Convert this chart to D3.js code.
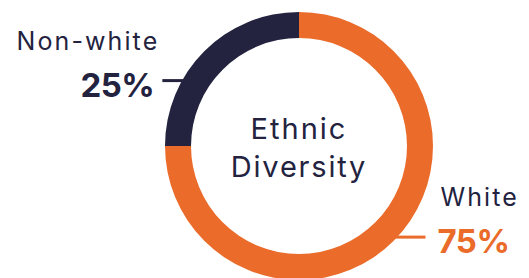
<html lang="en">
<head>
<script src="https://cdn.jsdelivr.net/npm/d3@7"></script>
</head>
<style>
body{margin:0;background:#fff;}
text{font-family:Inter,"Open Sans",sans-serif;}
</style>
<body>
<div id="chart"></div>
<script>
const categories=["White","Non-white"]
const values=[75,25]
const labels=["75%","25%"]

const W=529,H=278
const cx=299,cy=146,outerR=134,innerR=108
const colors={"White":"#EA6B2A","Non-white":"#23233F"}
const ink="#23233F"

const svg=d3.select("#chart").append("svg").attr("width",W).attr("height",H)
const g=svg.append("g").attr("transform","translate("+cx+","+cy+")")

const data=categories.map((c,i)=>({name:c,value:values[i],label:labels[i]}))
const pie=d3.pie().sort(null).value(d=>d.value)
const arc=d3.arc().innerRadius(innerR).outerRadius(outerR)
const arcs=pie(data)

g.selectAll("path").data(arcs).join("path")
  .attr("d",arc).attr("fill",d=>colors[d.data.name])

// centre title
g.append("text").attr("text-anchor","middle").attr("y",-7)
  .style("font-size","29px").style("letter-spacing","2px").style("fill",ink).text("Ethnic")
g.append("text").attr("text-anchor","middle").attr("y",31)
  .style("font-size","29px").style("letter-spacing","1.8px").style("fill",ink).text("Diversity")

// leader lines + labels
// white on right (line goes out to the right), non-white on left
const labelAngle=d=>d.data.name=="White"?d.startAngle+(d.endAngle-d.startAngle)*0.495:d.startAngle+(d.endAngle-d.startAngle)*0.33
arcs.forEach(d=>{
  const a=labelAngle(d)
  const p=d3.pointRadial(a,outerR-2)
  const right=p[0]>0
  const len=right?31:22
  const x2=right?p[0]+len:p[0]-len
  g.append("line").attr("x1",p[0]).attr("y1",p[1]).attr("x2",x2).attr("y2",p[1])
    .attr("stroke",colors[d.data.name]).attr("stroke-width",3)
  const tx=right?x2+12:x2-8
  g.append("text").attr("x",right?tx+3:tx+5).attr("y",p[1]-31)
    .attr("text-anchor",right?"start":"end")
    .style("font-size","25px").style("letter-spacing","2.1px").style("fill",ink).text(d.data.name)
  g.append("text").attr("x",tx).attr("y",p[1]+16)
    .attr("text-anchor",right?"start":"end")
    .style("font-size","33px").style("font-weight","700").style("letter-spacing","-0.5px")
    .style("fill",right?colors[d.data.name]:ink).text(d.data.label)
})
</script>
</body>
</html>
